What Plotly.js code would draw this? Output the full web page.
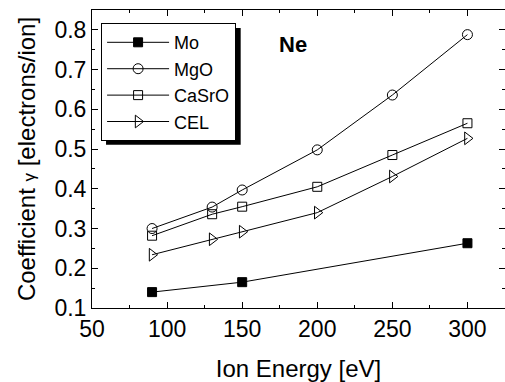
<!DOCTYPE html>
<html><head><meta charset="utf-8">
<script src="https://cdn.plot.ly/plotly-3.0.1.min.js"></script>
<style>html,body{margin:0;padding:0;background:#fff}#c{width:505px;height:382px}</style>
</head><body><div id="c"></div>
<script>
const energyMo = [90, 150, 300];
const gammaMo = [0.14, 0.165, 0.263];
const energy = [90, 130, 150, 200, 250, 300];
const gammaMgO = [0.30, 0.354, 0.397, 0.498, 0.636, 0.788];
const gammaCaSrO = [0.282, 0.336, 0.355, 0.405, 0.485, 0.565];
const gammaCEL = [0.234, 0.273, 0.292, 0.340, 0.431, 0.527];
const seriesNames = ["Mo", "MgO", "CaSrO", "CEL"];
const xTicks = [50, 100, 150, 200, 250, 300];
const yTicks = [0.1, 0.2, 0.3, 0.4, 0.5, 0.6, 0.7, 0.8];

const lineStyle = {color: '#000', width: 1};
const traces = [
  {x: energyMo, y: gammaMo, name: seriesNames[0], mode: 'lines+markers', line: lineStyle,
   marker: {symbol: 'square', size: 9, color: '#000', line: {color: '#000', width: 1}}},
  {x: energy, y: gammaMgO, name: seriesNames[1], mode: 'lines+markers', line: lineStyle,
   marker: {symbol: 'circle-open', size: 10, color: '#000', line: {color: '#000', width: 1}}},
  {x: energy, y: gammaCaSrO, name: seriesNames[2], mode: 'lines+markers', line: lineStyle,
   marker: {symbol: 'square-open', size: 9, color: '#000', line: {color: '#000', width: 1}}},
  {x: energy, y: gammaCEL, name: seriesNames[3], mode: 'lines+markers', line: lineStyle,
   marker: {symbol: 'triangle-right-open', size: 11, color: '#000', line: {color: '#000', width: 1}}}
];

const axisCommon = {
  showgrid: false, zeroline: false, showline: true, linecolor: '#000', linewidth: 1,
  mirror: 'allticks', ticks: 'inside', ticklen: 6, tickcolor: '#000', tickwidth: 1,
  tickfont: {family: 'Liberation Sans, Arial, sans-serif', size: 23, color: '#000'}
};

const layout = {
  width: 505, height: 382,
  margin: {l: 92, r: 0, t: 10, b: 74},
  paper_bgcolor: '#fff', plot_bgcolor: '#fff',
  font: {family: 'Liberation Sans, Arial, sans-serif', color: '#000'},
  xaxis: Object.assign({}, axisCommon, {
    range: [50, 325], tickvals: xTicks, ticktext: xTicks.map(String),
    minor: {dtick: 25, tick0: 25, ticklen: 3, ticks: 'inside', tickcolor: '#000'},
    title: {text: 'Ion Energy [eV]', font: {size: 24}, standoff: 20}
  }),
  yaxis: Object.assign({}, axisCommon, {
    range: [0.1, 0.85], tickvals: yTicks, ticktext: yTicks.map(v => v.toFixed(1)),
    minor: {dtick: 0.05, tick0: 0.05, ticklen: 3, ticks: 'inside', tickcolor: '#000'},
    title: {text: 'Coefficient <span style="font-size:17px">γ</span> [electrons/ion]', font: {size: 24}, standoff: 12}
  }),
  showlegend: true,
  legend: {
    x: 0.022, y: 0.956, xanchor: 'left', yanchor: 'top',
    bgcolor: '#fff', bordercolor: '#000', borderwidth: 1,
    font: {size: 18, color: '#000'}, tracegroupgap: 0, itemwidth: 62
  },
  shapes: [
    {type: 'rect', xref: 'paper', yref: 'paper', layer: 'above',
     x0: 0.034, x1: 0.36, y0: 0.548, y1: 0.94,
     fillcolor: '#000', line: {width: 0}}
  ],
  annotations: [
    {text: '<b>Ne</b>', xref: 'paper', yref: 'paper', x: 0.448, y: 0.885,
     xanchor: 'left', yanchor: 'middle', showarrow: false,
     font: {size: 22, color: '#000'}}
  ]
};

Plotly.newPlot('c', traces, layout, {displayModeBar: false, staticPlot: true});
</script>
</body></html>
